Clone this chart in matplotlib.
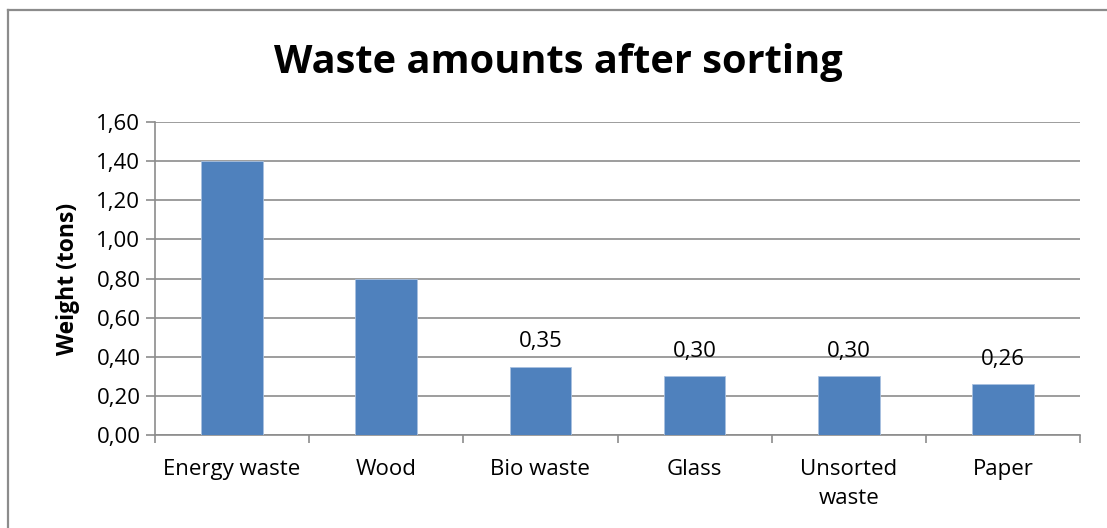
import numpy as np
import matplotlib
matplotlib.use("Agg")
import matplotlib.pyplot as plt
from matplotlib.lines import Line2D

plt.rcParams['font.family'] = ['Open Sans', 'DejaVu Sans']

# data
categories = ["Energy waste", "Wood", "Bio waste", "Glass", "Unsorted\nwaste", "Paper"]
weights = [1.40, 0.80, 0.35, 0.30, 0.30, 0.26]
show_label = [False, False, True, True, True, True]
y_ticks = [0.0, 0.2, 0.4, 0.6, 0.8, 1.0, 1.2, 1.4, 1.6]

BAR_COLOR = "#4F81BD"
GRID_COLOR = "#8C8C8C"


def comma(v):
    return f"{v:.2f}".replace(".", ",")


fig = plt.figure(figsize=(11.07, 5.28), dpi=100)
ax = fig.add_axes([155 / 1107, 1 - 435 / 528, (1080 - 155) / 1107, (435 - 122) / 528])

x = np.arange(len(categories))
bars = ax.bar(x, weights, width=0.40, color=BAR_COLOR, edgecolor="#A9C1E0",
              linewidth=0.6, zorder=3)

for b, v, s in zip(bars, weights, show_label):
    if s:
        ax.annotate(comma(v), (b.get_x() + b.get_width() / 2, v),
                    xytext=(0, 14), textcoords="offset points",
                    ha="center", va="baseline", fontsize=16, color="#000000")

ax.set_xlim(-0.5, len(categories) - 0.5)
ax.set_ylim(0, 1.6)
ax.set_yticks(y_ticks)
ax.set_yticklabels([comma(t) for t in y_ticks], fontsize=16)
ax.yaxis.grid(True, color=GRID_COLOR, linewidth=1.2, zorder=0)
ax.set_axisbelow(True)

# tick marks sit on category borders, labels in the middle
ax.set_xticks(np.arange(-0.5, len(categories)))
ax.set_xticklabels([])
ax.set_xticks(x, minor=True)
ax.set_xticklabels(categories, minor=True, fontsize=16, linespacing=1.55)
ax.tick_params(axis="x", which="major", direction="out", length=6, width=1.2, color=GRID_COLOR)
ax.tick_params(axis="x", which="minor", length=0, pad=17)
ax.tick_params(axis="y", direction="out", length=6.5, width=1.2, color=GRID_COLOR, pad=4)

for side in ["top", "right"]:
    ax.spines[side].set_visible(False)
for side in ["left", "bottom"]:
    ax.spines[side].set_color(GRID_COLOR)
    ax.spines[side].set_linewidth(1.2)

ax.set_ylabel("Weight (tons)", fontsize=16.5, fontweight="bold", labelpad=12)
fig.text(558 / 1107, 1 - 62 / 528, "Waste amounts after sorting", fontsize=28.6,
         fontweight="bold", ha="center", va="center")

# chart frame (only left and top edges visible in the crop)
fig.add_artist(Line2D([8 / 1107, 8 / 1107], [0, 1 - 10 / 528], transform=fig.transFigure,
                      color="#8C8C8C", linewidth=1.6))
fig.add_artist(Line2D([8 / 1107, 1], [1 - 10 / 528, 1 - 10 / 528], transform=fig.transFigure,
                      color="#8C8C8C", linewidth=1.6))

fig.savefig("out.png", dpi=100, facecolor="white")
